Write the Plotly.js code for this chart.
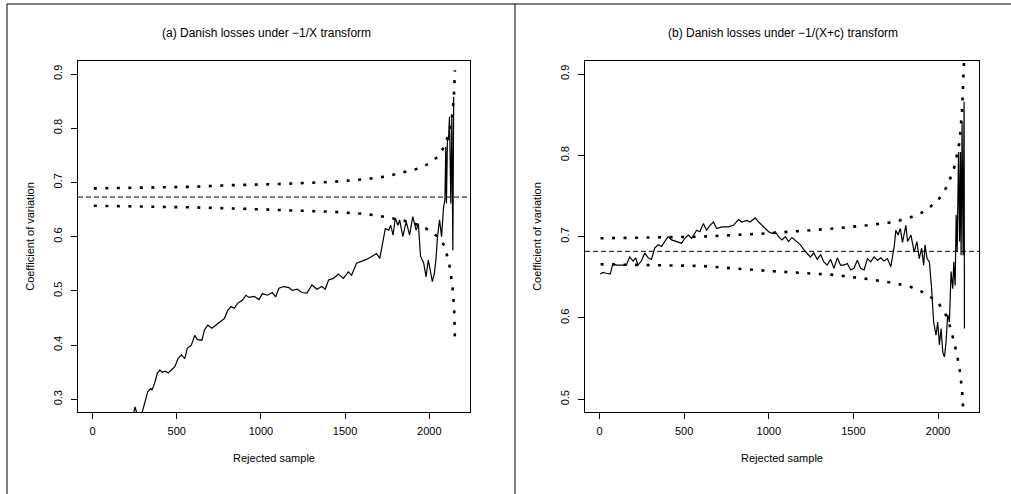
<!DOCTYPE html>
<html>
<head>
<meta charset="utf-8">
<script src="https://cdn.plot.ly/plotly-3.0.1.min.js"></script>
<style>
  html, body { margin: 0; padding: 0; background: #ffffff; }
  #chart { width: 1011px; height: 494px; }
</style>
</head>
<body>
<div id="chart"></div>
<script>
// ---------- Panel (a): Danish losses under -1/X transform ----------
const cvA_x = [240, 253, 262, 280, 295, 303, 312, 328, 347, 354, 371, 385, 400, 415, 430, 450, 469, 489, 508, 528,
  548, 563, 587, 607, 623, 650, 665, 685, 709, 734, 764, 783, 803, 823, 842, 862, 891, 911, 930, 960,
  989, 1009, 1038, 1068, 1088, 1107, 1137, 1166, 1186, 1215, 1244, 1274, 1303, 1333, 1362, 1382, 1402, 1431, 1460, 1490,
  1519, 1539, 1568, 1598, 1627, 1657, 1686, 1706, 1726, 1739, 1759, 1771, 1785, 1798, 1814, 1824, 1843, 1863, 1883, 1902,
  1922, 1935, 1948, 1967, 1981, 1994, 2006, 2018, 2030, 2040, 2049, 2061, 2073, 2085, 2093, 2098, 2102, 2108, 2114, 2120,
  2128, 2134, 2140, 2145];
const cvA_y = [0.270, 0.286, 0.276, 0.274, 0.276, 0.285, 0.298, 0.314, 0.320, 0.317, 0.332, 0.348, 0.354, 0.350, 0.352, 0.349, 0.354, 0.360, 0.375, 0.382,
  0.375, 0.394, 0.400, 0.418, 0.410, 0.409, 0.428, 0.437, 0.431, 0.437, 0.443, 0.449, 0.464, 0.471, 0.468, 0.477, 0.483, 0.492, 0.488, 0.490,
  0.484, 0.495, 0.492, 0.497, 0.489, 0.505, 0.508, 0.506, 0.501, 0.503, 0.497, 0.496, 0.511, 0.503, 0.508, 0.503, 0.520, 0.523, 0.531, 0.523,
  0.535, 0.529, 0.551, 0.554, 0.558, 0.563, 0.569, 0.560, 0.594, 0.615, 0.612, 0.621, 0.603, 0.634, 0.621, 0.631, 0.600, 0.628, 0.603, 0.637,
  0.612, 0.624, 0.564, 0.551, 0.526, 0.557, 0.538, 0.517, 0.532, 0.560, 0.600, 0.631, 0.600, 0.655, 0.668, 0.766, 0.661, 0.784, 0.778, 0.821,
  0.661, 0.824, 0.575, 0.858];
const bandA_x = [8, 300, 600, 832, 1100, 1421, 1618, 1745, 1873, 1941, 2000, 2049, 2089, 2118, 2138, 2148, 2152];
const bandA_upper = [0.689, 0.690, 0.692, 0.695, 0.697, 0.701, 0.706, 0.711, 0.720, 0.726, 0.735, 0.747, 0.766, 0.791, 0.827, 0.870, 0.907];
const bandA_lower = [0.657, 0.656, 0.654, 0.652, 0.649, 0.646, 0.642, 0.636, 0.628, 0.621, 0.612, 0.600, 0.584, 0.551, 0.508, 0.465, 0.415];
const meanA = 0.673;

// ---------- Panel (b): Danish losses under -1/(X+c) transform ----------
const cvB_x = [4, 20, 40, 63, 79, 99, 129, 158, 178, 198, 214, 227, 247, 267, 287, 307, 326, 346, 366, 386,
  405, 425, 455, 485, 504, 524, 544, 574, 593, 613, 633, 653, 673, 692, 722, 761, 791, 821, 840, 870,
  890, 920, 940, 959, 979, 999, 1018, 1038, 1058, 1078, 1098, 1117, 1137, 1167, 1187, 1207, 1226, 1246, 1266, 1286,
  1306, 1325, 1345, 1365, 1385, 1405, 1424, 1444, 1464, 1484, 1503, 1523, 1543, 1563, 1583, 1602, 1622, 1642, 1662, 1681,
  1701, 1721, 1741, 1751, 1764, 1777, 1790, 1810, 1820, 1840, 1859, 1875, 1889, 1903, 1915, 1923, 1935, 1949, 1962, 1974,
  1988, 1998, 2008, 2018, 2028, 2038, 2047, 2057, 2067, 2077, 2087, 2093, 2101, 2107, 2113, 2121, 2127, 2132, 2136, 2142,
  2148, 2154, 2156];
const cvB_y = [0.654, 0.656, 0.655, 0.654, 0.667, 0.665, 0.665, 0.665, 0.675, 0.670, 0.674, 0.665, 0.670, 0.680, 0.674, 0.672, 0.686, 0.690, 0.688, 0.694,
  0.700, 0.696, 0.694, 0.692, 0.698, 0.702, 0.698, 0.708, 0.706, 0.716, 0.708, 0.714, 0.718, 0.710, 0.712, 0.712, 0.714, 0.721, 0.718, 0.720,
  0.718, 0.723, 0.718, 0.714, 0.710, 0.706, 0.704, 0.706, 0.700, 0.696, 0.700, 0.694, 0.699, 0.694, 0.690, 0.684, 0.680, 0.675, 0.680, 0.672,
  0.678, 0.669, 0.665, 0.672, 0.661, 0.674, 0.665, 0.665, 0.667, 0.659, 0.661, 0.671, 0.661, 0.659, 0.673, 0.669, 0.675, 0.671, 0.674, 0.670,
  0.673, 0.663, 0.688, 0.708, 0.702, 0.710, 0.693, 0.714, 0.694, 0.702, 0.681, 0.694, 0.673, 0.686, 0.665, 0.690, 0.673, 0.669, 0.636, 0.595,
  0.579, 0.595, 0.567, 0.587, 0.558, 0.552, 0.570, 0.604, 0.595, 0.657, 0.636, 0.669, 0.640, 0.727, 0.681, 0.804, 0.694, 0.804, 0.677, 0.841,
  0.677, 0.866, 0.587];
const bandB_upper_x = [6, 300, 600, 989, 1385, 1582, 1741, 1840, 1919, 1998, 2057, 2097, 2126, 2142, 2152, 2156];
const bandB_upper = [0.698, 0.699, 0.700, 0.704, 0.710, 0.714, 0.718, 0.724, 0.731, 0.744, 0.763, 0.786, 0.815, 0.855, 0.899, 0.930];
const bandB_lower_x = [6, 300, 600, 989, 1385, 1582, 1741, 1840, 1919, 1998, 2057, 2097, 2126, 2142, 2148];
const bandB_lower = [0.666, 0.665, 0.664, 0.658, 0.653, 0.648, 0.643, 0.638, 0.631, 0.620, 0.600, 0.569, 0.540, 0.511, 0.489];
// dots of the upper band that run past the top of the box
const bandB_overflow_x = [2155, 2155, 2155, 2155, 2155];
const bandB_overflow_y = [0.927, 0.942, 0.957, 0.970, 0.985];
const meanB = 0.682;

// ---------- labels ----------
const titleA = "(a) Danish losses under \u22121/X transform";
const titleB = "(b) Danish losses under \u22121/(X+c) transform";
const xLabel = "Rejected sample";
const yLabel = "Coefficient of variation";
const xTicks = [0, 500, 1000, 1500, 2000];
const yTicksA = [0.3, 0.4, 0.5, 0.6, 0.7, 0.8, 0.9];
const yTicksB = [0.5, 0.6, 0.7, 0.8, 0.9];

const FONT = "Liberation Sans, Arial, Helvetica, sans-serif";
const solid = {color: "#000", width: 1.2};
const dotted = {color: "#000", width: 2.6, dash: "3px,8.5px"};

const traces = [
  {x: cvA_x, y: cvA_y, xaxis: "x", yaxis: "y", mode: "lines", line: solid, hoverinfo: "skip"},
  {x: bandA_x, y: bandA_upper, xaxis: "x", yaxis: "y", mode: "lines", line: dotted, hoverinfo: "skip"},
  {x: bandA_x, y: bandA_lower, xaxis: "x", yaxis: "y", mode: "lines", line: dotted, hoverinfo: "skip"},
  {x: cvB_x, y: cvB_y, xaxis: "x2", yaxis: "y2", mode: "lines", line: solid, hoverinfo: "skip"},
  {x: bandB_upper_x, y: bandB_upper, xaxis: "x2", yaxis: "y2", mode: "lines", line: dotted, hoverinfo: "skip"},
  {x: bandB_lower_x, y: bandB_lower, xaxis: "x2", yaxis: "y2", mode: "lines", line: dotted, hoverinfo: "skip"},
  {x: bandB_overflow_x, y: bandB_overflow_y, xaxis: "x2", yaxis: "y2", mode: "markers", cliponaxis: false,
   marker: {symbol: "square", size: 3, color: "#000", line: {width: 0}}, hoverinfo: "skip"}
];

function xAxis(domain, anchor) {
  return {
    domain: domain, anchor: anchor, range: [-86, 2242],
    tickmode: "array", tickvals: xTicks, ticktext: xTicks.map(String),
    ticks: "outside", ticklen: 6, tickwidth: 1, tickcolor: "#000",
    ticklabelstandoff: 3,
    showline: true, mirror: true, linecolor: "#000", linewidth: 1,
    showgrid: false, zeroline: false,
    tickfont: {family: FONT, size: 11, color: "#000"},
    title: {text: xLabel, font: {family: FONT, size: 11, color: "#000"}, standoff: 18}
  };
}
function yAxis(range, ticks, anchor) {
  return {
    domain: [0, 1], anchor: anchor, range: range,
    tickmode: "array", tickvals: ticks, ticktext: ticks.map(v => v.toFixed(1)),
    tickangle: -90,
    ticks: "outside", ticklen: 6, tickwidth: 1, tickcolor: "#000",
    ticklabelstandoff: 5,
    showline: true, mirror: true, linecolor: "#000", linewidth: 1,
    showgrid: false, zeroline: false,
    tickfont: {family: FONT, size: 11, color: "#000"},
    title: {text: yLabel, font: {family: FONT, size: 11, color: "#000"}, standoff: 14}
  };
}

const frame = {color: "#000", width: 1};
const layout = {
  width: 1011, height: 494,
  margin: {l: 78, r: 32, t: 61, b: 82},
  paper_bgcolor: "#ffffff", plot_bgcolor: "#ffffff",
  showlegend: false,
  font: {family: FONT, color: "#000"},
  xaxis: xAxis([0, 0.4351], "y"),
  yaxis: yAxis([0.2766, 0.924], yTicksA, "x"),
  xaxis2: xAxis([0.5627, 1], "y2"),
  yaxis2: yAxis([0.4844, 0.916], yTicksB, "x2"),
  annotations: [
    {text: titleA, xref: "paper", yref: "paper", x: 0.2097, y: 1.0798, xanchor: "center", yanchor: "middle",
     showarrow: false, font: {family: FONT, size: 12, color: "#000"}},
    {text: titleB, xref: "paper", yref: "paper", x: 0.7825, y: 1.0798, xanchor: "center", yanchor: "middle",
     showarrow: false, font: {family: FONT, size: 12, color: "#000"}}
  ],
  shapes: [
    {type: "line", xref: "x domain", yref: "y", x0: 0, x1: 1, y0: meanA, y1: meanA, line: {color: "#000", width: 1, dash: "5px,3px"}},
    {type: "line", xref: "x2 domain", yref: "y2", x0: 0, x1: 1, y0: meanB, y1: meanB, line: {color: "#000", width: 1, dash: "5px,3px"}},
    {type: "line", xref: "paper", yref: "paper", x0: -0.0788, x1: 1.04, y0: 1.1624, y1: 1.1624, line: frame},
    {type: "line", xref: "paper", yref: "paper", x0: -0.0788, x1: -0.0788, y0: -0.25, y1: 1.1624, line: frame},
    {type: "line", xref: "paper", yref: "paper", x0: 0.4850, x1: 0.4850, y0: -0.25, y1: 1.1624, line: frame}
  ]
};

Plotly.newPlot("chart", traces, layout, {displayModeBar: false, staticPlot: true});
</script>
</body>
</html>
